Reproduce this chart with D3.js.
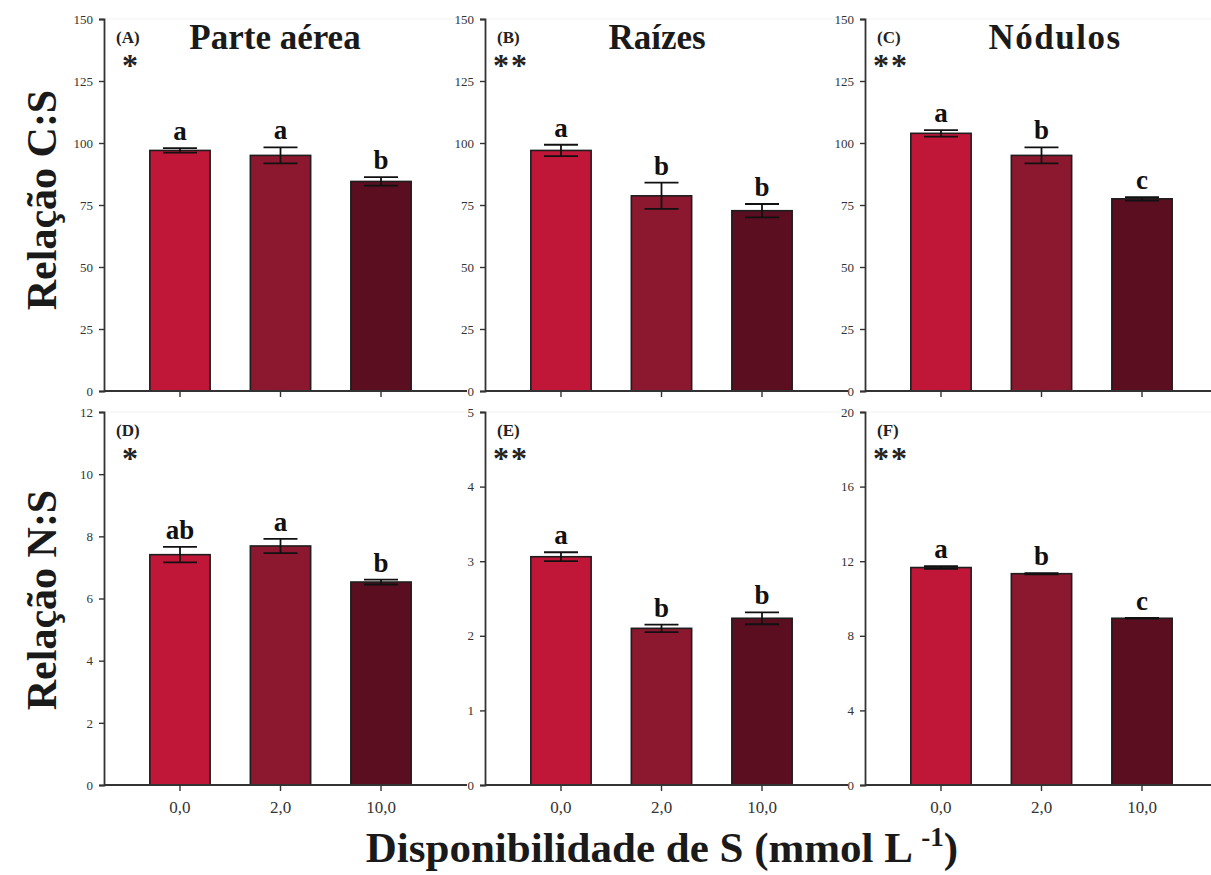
<!DOCTYPE html>
<html>
<head>
<meta charset="utf-8">
<script src="https://cdn.jsdelivr.net/npm/d3@7"></script>
<style>
  html, body { margin: 0; padding: 0; background: #fff; }
  svg { display: block; }
  text { font-family: "Liberation Serif", "Times New Roman", serif; }
</style>
</head>
<body>
<svg id="chart" width="1211" height="875"></svg>
<script>
// Sulfur availability treatments (x categories)
const categories = ["0,0", "2,0", "10,0"];
const barColors = ["#c01738", "#8b182e", "#5a0e1f"];

// Panel A–C: C:S ratio; Panel D–F: N:S ratio (means, standard errors, Tukey letters)
const csShoot = [97.0, 95.0, 84.5];
const csShootErr = [0.9, 3.2, 1.7];
const csShootLetters = ["a", "a", "b"];

const csRoot = [97.0, 78.7, 72.7];
const csRootErr = [2.3, 5.3, 2.7];
const csRootLetters = ["a", "b", "b"];

const csNodule = [103.9, 95.0, 77.5];
const csNoduleErr = [1.3, 3.2, 0.7];
const csNoduleLetters = ["a", "b", "c"];

const nsShoot = [7.41, 7.69, 6.53];
const nsShootErr = [0.25, 0.23, 0.08];
const nsShootLetters = ["ab", "a", "b"];

const nsRoot = [3.06, 2.10, 2.235];
const nsRootErr = [0.06, 0.05, 0.08];
const nsRootLetters = ["a", "b", "b"];

const nsNodule = [11.66, 11.33, 8.94];
const nsNoduleErr = [0.07, 0.03, 0.02];
const nsNoduleLetters = ["a", "b", "c"];

// Axis tick values
const csTicks = [0, 25, 50, 75, 100, 125, 150];
const nsShootTicks = [0, 2, 4, 6, 8, 10, 12];
const nsRootTicks = [0, 1, 2, 3, 4, 5];
const nsNoduleTicks = [0, 4, 8, 12, 16, 20];

const panels = [
  { id: "(A)", title: "Parte aérea", sig: "*", values: csShoot, err: csShootErr, letters: csShootLetters, ticks: csTicks, max: 150, col: 0, row: 0 },
  { id: "(B)", title: "Raízes", sig: "**", values: csRoot, err: csRootErr, letters: csRootLetters, ticks: csTicks, max: 150, col: 1, row: 0 },
  { id: "(C)", title: "Nódulos", sig: "**", values: csNodule, err: csNoduleErr, letters: csNoduleLetters, ticks: csTicks, max: 150, col: 2, row: 0, spaced: true },
  { id: "(D)", title: "", sig: "*", values: nsShoot, err: nsShootErr, letters: nsShootLetters, ticks: nsShootTicks, max: 12, col: 0, row: 1 },
  { id: "(E)", title: "", sig: "**", values: nsRoot, err: nsRootErr, letters: nsRootLetters, ticks: nsRootTicks, max: 5, col: 1, row: 1 },
  { id: "(F)", title: "", sig: "**", values: nsNodule, err: nsNoduleErr, letters: nsNoduleLetters, ticks: nsNoduleTicks, max: 20, col: 2, row: 1 }
];

const svg = d3.select("#chart");
const colX = [104, 485, 865];
const rowY = [[19, 391], [412, 785]];
const plotW = 353;

panels.forEach(p => {
  const x0 = colX[p.col];
  const [top, bottom] = rowY[p.row];
  const g = svg.append("g");

  const x = d3.scaleBand().domain(categories).range([x0, x0 + plotW])
    .paddingInner(0.4).paddingOuter(0.456);
  const y = d3.scaleLinear().domain([0, p.max]).range([bottom, top]);

  // faint frame top line
  g.append("line").attr("x1", x0).attr("x2", x0 + plotW + 10)
    .attr("y1", top).attr("y2", top)
    .attr("stroke", "#f2f2f2").attr("stroke-width", 1);

  // bars
  g.selectAll("rect.bar").data(p.values).join("rect")
    .attr("class", "bar")
    .attr("x", (d, i) => x(categories[i]))
    .attr("width", x.bandwidth())
    .attr("y", d => y(d))
    .attr("height", d => bottom - y(d))
    .attr("fill", (d, i) => barColors[i])
    .attr("stroke", "#1e1e1e").attr("stroke-width", 1.6);

  // error bars and significance letters
  const cap = 17;
  p.values.forEach((v, i) => {
    const cx = x(categories[i]) + x.bandwidth() / 2;
    const yHi = y(v + p.err[i]), yLo = y(v - p.err[i]);
    const eg = g.append("g").attr("stroke", "#111").attr("stroke-width", 1.8);
    eg.append("line").attr("x1", cx).attr("x2", cx).attr("y1", yHi).attr("y2", yLo);
    eg.append("line").attr("x1", cx - cap).attr("x2", cx + cap).attr("y1", yHi).attr("y2", yHi);
    eg.append("line").attr("x1", cx - cap).attr("x2", cx + cap).attr("y1", yLo).attr("y2", yLo);
    g.append("text").attr("x", cx).attr("y", yHi - 8)
      .attr("text-anchor", "middle").attr("font-weight", "bold")
      .attr("font-size", 27).attr("fill", "#111").text(p.letters[i]);
  });

  // y axis
  const yAxis = d3.axisLeft(y).tickValues(p.ticks).tickFormat(d3.format("d"))
    .tickSize(5).tickPadding(6);
  const ya = g.append("g").attr("transform", `translate(${x0},0)`).call(yAxis);
  ya.select(".domain").attr("stroke", "#333").attr("stroke-width", 1.8);
  ya.selectAll(".tick line").attr("stroke", "#333").attr("stroke-width", 1.4);
  ya.selectAll(".tick text").attr("font-size", 13).attr("fill", "#333")
    .attr("font-family", "Liberation Serif, serif");

  // x axis
  const xAxis = d3.axisBottom(x).tickSize(6).tickPadding(10);
  const xa = g.append("g").attr("transform", `translate(0,${bottom})`).call(xAxis);
  xa.select(".domain").attr("stroke", "#333").attr("stroke-width", 1.8)
    .attr("d", `M${x0},0H${x0 + plotW + 10}`);
  xa.selectAll(".tick line").attr("stroke", "#333").attr("stroke-width", 1.4);
  xa.selectAll(".tick text").attr("font-size", 17).attr("fill", "#333")
    .attr("font-family", "Liberation Serif, serif")
    .style("display", p.row === 1 ? null : "none");

  // panel id and significance marker
  g.append("text").attr("x", x0 + 12).attr("y", top + 24)
    .attr("font-weight", "bold").attr("font-size", 17).attr("fill", "#222").text(p.id);
  g.append("text").attr("x", x0 + (p.sig.length > 1 ? 8 : 18)).attr("y", top + 57)
    .attr("font-size", 32).attr("font-weight", "bold").attr("fill", "#222")
    .attr("letter-spacing", 2).text(p.sig);

  // panel title
  if (p.title) {
    g.append("text").attr("x", x0 + (p.col === 0 ? 171 : p.col === 1 ? 172 : 190)).attr("y", top + 30)
      .attr("text-anchor", "middle").attr("font-weight", "bold").attr("font-size", 35)
      .attr("fill", "#1a1a1a").attr("letter-spacing", p.spaced ? 1.5 : 0).text(p.title);
  }
});

// row titles
svg.append("text").attr("transform", "translate(56,200) rotate(-90)")
  .attr("text-anchor", "middle").attr("font-weight", "bold").attr("font-size", 42)
  .attr("fill", "#1a1a1a").text("Relação C:S");
svg.append("text").attr("transform", "translate(56,600) rotate(-90)")
  .attr("text-anchor", "middle").attr("font-weight", "bold").attr("font-size", 42)
  .attr("fill", "#1a1a1a").text("Relação N:S");

// shared x-axis title
const xt = svg.append("text").attr("x", 662).attr("y", 862)
  .attr("text-anchor", "middle").attr("font-weight", "bold").attr("font-size", 43)
  .attr("fill", "#1a1a1a");
xt.append("tspan").text("Disponibilidade de S (mmol L ");
xt.append("tspan").attr("font-size", 27).attr("dy", -16).text("-1");
xt.append("tspan").attr("dy", 16).text(")");
</script>
</body>
</html>
